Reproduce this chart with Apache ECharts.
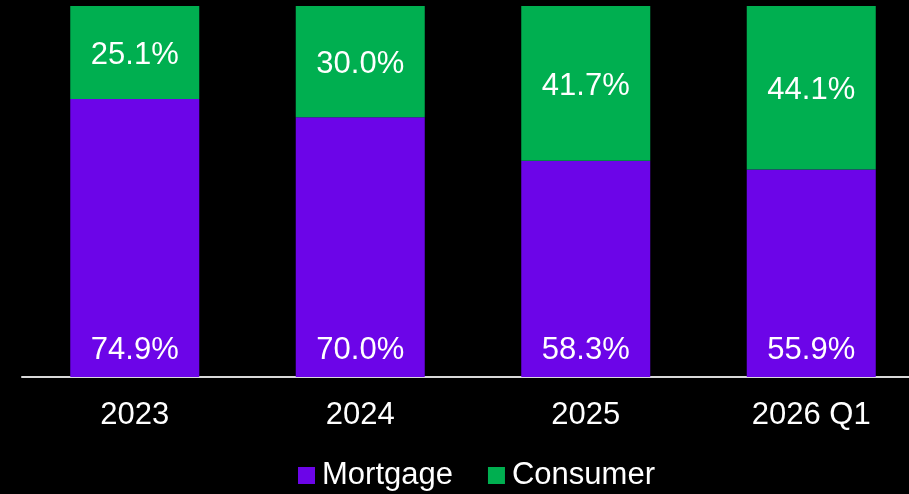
<!DOCTYPE html>
<html>
<head>
<meta charset="utf-8">
<script src="https://cdn.jsdelivr.net/npm/echarts@6/dist/echarts.min.js"></script>
<style>
  html, body { margin: 0; padding: 0; background: #000; overflow: hidden; }
  /* plot runs past the right edge in the original, so the canvas is wider than the window */
  #chart { width: 926px; height: 494px; }
</style>
</head>
<body>
<div id="chart"></div>
<script>
const categories = ['2023', '2024', '2025', '2026 Q1'];
const mortgage = [74.9, 70.0, 58.3, 55.9];
const consumer = [25.1, 30.0, 41.7, 44.1];

const font = '"Liberation Sans", Arial, sans-serif';
const pct = (p) => p.value.toFixed(1) + '%';

const chart = echarts.init(document.getElementById('chart'));
chart.setOption({
  backgroundColor: '#000000',
  animation: false,
  grid: { left: 22, right: 2, top: 6, bottom: 117 },
  legend: {
    top: 455,
    left: 293,
    itemWidth: 17,
    itemHeight: 17,
    itemGap: 35,
    icon: 'rect',
    textStyle: { color: '#ffffff', fontSize: 31, fontFamily: font, padding: [0, 0, 0, 2] },
    data: ['Mortgage', 'Consumer']
  },
  xAxis: {
    type: 'category',
    data: categories,
    axisLine: { lineStyle: { color: '#d9d9d9', width: 2 } },
    axisTick: { show: false },
    axisLabel: { color: '#ffffff', fontSize: 31, fontFamily: font, margin: 23 }
  },
  yAxis: {
    type: 'value',
    min: 0,
    max: 100,
    show: false,
    splitLine: { show: false }
  },
  series: [
    {
      name: 'Mortgage',
      type: 'bar',
      stack: 'total',
      barWidth: 129,
      data: mortgage,
      itemStyle: { color: '#6c05e8' },
      label: {
        show: true,
        position: 'insideBottom',
        distance: 11,
        color: '#ffffff',
        fontSize: 31,
        fontFamily: font,
        formatter: pct
      }
    },
    {
      name: 'Consumer',
      type: 'bar',
      stack: 'total',
      barWidth: 129,
      data: consumer,
      itemStyle: { color: '#00af50' },
      label: {
        show: true,
        position: 'inside',
        offset: [0, 3],
        color: '#ffffff',
        fontSize: 31,
        fontFamily: font,
        formatter: pct
      }
    }
  ]
});
</script>
</body>
</html>
